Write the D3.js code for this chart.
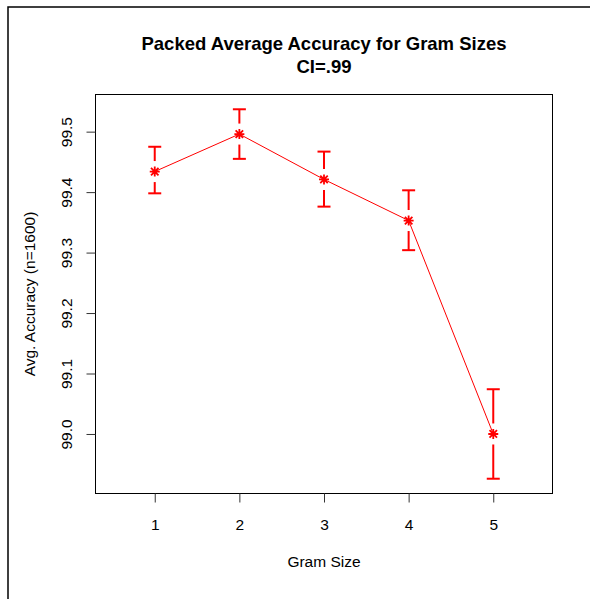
<!DOCTYPE html>
<html>
<head>
<meta charset="utf-8">
<script src="https://cdn.jsdelivr.net/npm/d3@7"></script>
<style>
  html, body { margin: 0; padding: 0; background: #fff; }
  svg { display: block; }
  text { font-family: "Liberation Sans", Arial, Helvetica, sans-serif; fill: #000; }
</style>
</head>
<body>
<svg id="chart" width="590" height="599"></svg>
<script>
// ---- data ----
const gramSizes = [1, 2, 3, 4, 5];
const meanAcc   = [99.434, 99.496, 99.421, 99.353, 99.000];
const upperCI   = [99.475, 99.537, 99.467, 99.403, 99.074];
const lowerCI   = [99.398, 99.455, 99.376, 99.304, 98.926];
const xTicks    = [1, 2, 3, 4, 5];
const yTicks    = [99.0, 99.1, 99.2, 99.3, 99.4, 99.5];
const titleLines = ["Packed Average Accuracy for Gram Sizes", "CI=.99"];
const xLabel = "Gram Size";
const yLabel = "Avg. Accuracy (n=1600)";

// ---- layout ----
const W = 590, H = 599;
const plot = { left: 95.5, right: 552.5, top: 94.5, bottom: 493.5 };
const svg = d3.select("#chart");

// outer device frame
svg.append("rect")
  .attr("x", 8).attr("y", 7)
  .attr("width", 800).attr("height", 800)
  .attr("fill", "none").attr("stroke", "#000").attr("stroke-width", 1.5);

// scales (R-style 4% padding)
const xData = [0.5, 5.5];
const xPad = (xData[1] - xData[0]) * 0.04;
const x = d3.scaleLinear().domain([xData[0] - xPad, xData[1] + xPad]).range([plot.left, plot.right]);
const yMin = d3.min(lowerCI), yMax = d3.max(upperCI);
const yPad = (yMax - yMin) * 0.04;
const y = d3.scaleLinear().domain([yMin - yPad, yMax + yPad]).range([plot.bottom, plot.top]);

// box
svg.append("rect")
  .attr("x", plot.left).attr("y", plot.top)
  .attr("width", plot.right - plot.left).attr("height", plot.bottom - plot.top)
  .attr("fill", "none").attr("stroke", "#000").attr("stroke-width", 1);

// axes
const xAxis = d3.axisBottom(x).tickValues(xTicks).tickSize(9).tickPadding(16.5).tickFormat(d3.format("d"));
const gx = svg.append("g").attr("transform", `translate(0,${plot.bottom})`).call(xAxis);
gx.attr("font-family", null).attr("font-size", null);
gx.select(".domain").attr("d", `M${x(xTicks[0])},0H${x(xTicks[xTicks.length-1])}`).attr("stroke", "#000");
gx.selectAll(".tick line").attr("stroke", "#333");
gx.selectAll("text").style("font-size", "15.5px").attr("dy", "0.71em");

const yAxis = d3.axisLeft(y).tickValues(yTicks).tickSize(9).tickFormat(d3.format(".1f"));
const gy = svg.append("g").attr("transform", `translate(${plot.left},0)`).call(yAxis);
gy.attr("font-family", null).attr("font-size", null);
gy.select(".domain").attr("d", `M0,${y(yTicks[0])}V${y(yTicks[yTicks.length-1])}`).attr("stroke", "#000");
gy.selectAll(".tick line").attr("stroke", "#333");
gy.selectAll(".tick text")
  .attr("x", 0).attr("y", 0).attr("dy", "0em")
  .attr("text-anchor", "middle")
  .attr("transform", "translate(-24,0) rotate(-90)")
  .style("font-size", "15.5px");

// titles
const midX = (plot.left + plot.right) / 2;
svg.append("text").attr("x", midX).attr("y", 50)
  .attr("text-anchor", "middle").style("font-size", "18.5px").style("font-weight", "bold")
  .text(titleLines[0]);
svg.append("text").attr("x", midX).attr("y", 73)
  .attr("text-anchor", "middle").style("font-size", "18.5px").style("font-weight", "bold")
  .text(titleLines[1]);

svg.append("text").attr("x", midX).attr("y", 567)
  .attr("text-anchor", "middle").style("font-size", "15.5px").text(xLabel);
svg.append("text")
  .attr("transform", `translate(35,${(plot.top + plot.bottom) / 2}) rotate(-90)`)
  .attr("text-anchor", "middle").style("font-size", "15.5px").text(yLabel);

// data
const rows = gramSizes.map((g, i) => ({ g, m: meanAcc[i], lo: lowerCI[i], hi: upperCI[i] }));
const red = "#ff0000";

// connecting line
svg.append("path")
  .datum(rows)
  .attr("d", d3.line().x(d => x(d.g)).y(d => y(d.m)))
  .attr("fill", "none").attr("stroke", red).attr("stroke-width", 1);

// error bars with gap around point
const gap = 10.5, capHalf = 6.5;
const eb = svg.append("g").attr("stroke", red).attr("stroke-width", 2).attr("fill", "none");
rows.forEach(d => {
  const cx = x(d.g), cy = y(d.m), yh = y(d.hi), yl = y(d.lo);
  if (cy - gap > yh) eb.append("line").attr("x1", cx).attr("x2", cx).attr("y1", yh).attr("y2", cy - gap);
  if (cy + gap < yl) eb.append("line").attr("x1", cx).attr("x2", cx).attr("y1", cy + gap).attr("y2", yl);
  eb.append("line").attr("x1", cx - capHalf).attr("x2", cx + capHalf).attr("y1", yh).attr("y2", yh);
  eb.append("line").attr("x1", cx - capHalf).attr("x2", cx + capHalf).attr("y1", yl).attr("y2", yl);
});

// asterisk markers (pch = 8)
const r = 5, rd = r * 0.75;
const st = svg.append("g").attr("stroke", red).attr("stroke-width", 1.8);
rows.forEach(d => {
  const cx = x(d.g), cy = y(d.m);
  st.append("path").attr("d",
    `M${cx - r},${cy}H${cx + r}M${cx},${cy - r}V${cy + r}` +
    `M${cx - rd},${cy - rd}L${cx + rd},${cy + rd}M${cx - rd},${cy + rd}L${cx + rd},${cy - rd}`);
});
</script>
</body>
</html>
